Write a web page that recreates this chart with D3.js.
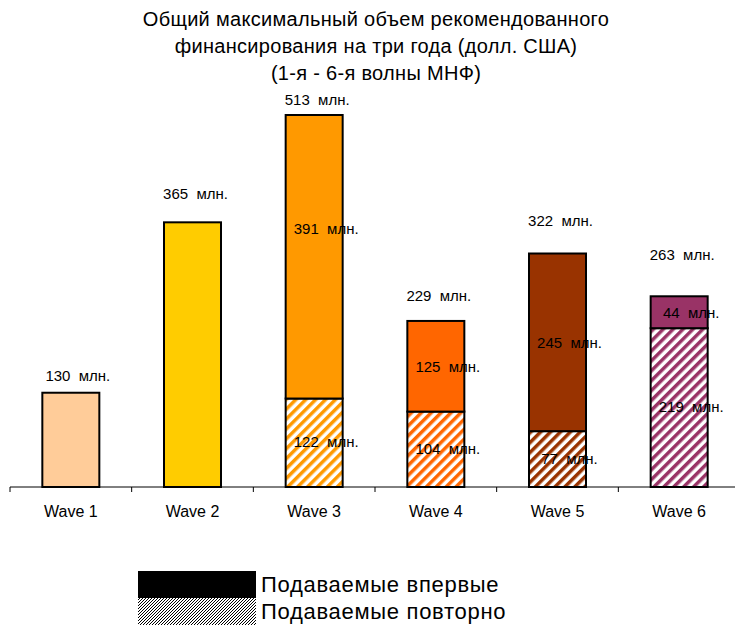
<!DOCTYPE html>
<html>
<head>
<meta charset="utf-8">
<script src="https://cdn.jsdelivr.net/npm/d3@7"></script>
<style>
  body { margin: 0; background: #fff; }
  svg { display: block; font-family: "Liberation Sans", Arial, sans-serif; }
  text { white-space: pre; }
</style>
</head>
<body>
<svg id="chart" width="735" height="626"></svg>
<script>
// values (млн. долл. США)
const waves = ["Wave 1", "Wave 2", "Wave 3", "Wave 4", "Wave 5", "Wave 6"];
const firstTime = [130, 365, 391, 125, 245, 44];   // solid top part
const repeated = [0, 0, 122, 104, 77, 219];        // hatched bottom part
const totals = [130, 365, 513, 229, 322, 263];
const waveColors = ["#FFCC99", "#FFCC00", "#FF9900", "#FF6600", "#993300", "#993366"];

const titleLines = [
  "Общий максимальный объем рекомендованного",
  "финансирования на три года (долл. США)",
  "(1-я - 6-я волны МНФ)"
];
const legendLabels = ["Подаваемые впервые", "Подаваемые повторно"];

// label gaps above each bar (the original places them by hand)
const totalLabelGap = [12, 23, 10, 20, 28, 36];

const svg = d3.select("#chart");
const baseY = 487;

const x = d3.scaleBand().domain(waves).range([10, 740]).padding(0);
const y = d3.scaleLinear().domain([0, 513]).range([baseY, 115]);
const barW = 57;
const barX = i => x(waves[i]) + (x.bandwidth() - barW) / 2;
const fmt = v => v + "\u00a0 млн.";

// hatch patterns, one per wave colour
const defs = svg.append("defs");
waveColors.forEach((c, i) => {
  const p = defs.append("pattern")
    .attr("id", "hatch" + i)
    .attr("patternUnits", "userSpaceOnUse")
    .attr("width", 7).attr("height", 7)
    .attr("patternTransform", "rotate(45)");
  p.append("rect").attr("width", 7).attr("height", 7).attr("fill", "#fff");
  p.append("rect").attr("width", 3.5).attr("height", 7).attr("fill", c);
});
const lp = defs.append("pattern")
  .attr("id", "legendHatch")
  .attr("patternUnits", "userSpaceOnUse")
  .attr("width", 3).attr("height", 3);
lp.append("rect").attr("width", 3).attr("height", 3).attr("fill", "#fff");
[[2, 0], [1, 1], [0, 2]].forEach(([px, py]) => {
  lp.append("rect").attr("x", px).attr("y", py).attr("width", 1).attr("height", 1).attr("fill", "#000");
});

// title
svg.append("g").selectAll("text")
  .data(titleLines)
  .join("text")
  .attr("x", 376)
  .attr("y", (d, i) => 26 + i * 27)
  .attr("text-anchor", "middle")
  .attr("font-size", 20)
  .attr("letter-spacing", 0.3)
  .text(d => d);

// bars
const bars = svg.append("g");
waves.forEach((w, i) => {
  if (repeated[i] > 0) {
    bars.append("rect")
      .attr("x", barX(i)).attr("width", barW)
      .attr("y", y(repeated[i])).attr("height", y(0) - y(repeated[i]))
      .attr("fill", `url(#hatch${i})`)
      .attr("stroke", "#000").attr("stroke-width", 2);
  }
  bars.append("rect")
    .attr("x", barX(i)).attr("width", barW)
    .attr("y", y(totals[i])).attr("height", y(repeated[i]) - y(totals[i]))
    .attr("fill", waveColors[i])
    .attr("stroke", "#000").attr("stroke-width", 2);
});

// axis
svg.append("line")
  .attr("x1", 10).attr("x2", 735)
  .attr("y1", baseY).attr("y2", baseY)
  .attr("stroke", "#000");
svg.append("g").selectAll("line")
  .data(waves.concat([null]))
  .join("line")
  .attr("x1", (d, i) => 10 + i * x.step()).attr("x2", (d, i) => 10 + i * x.step())
  .attr("y1", baseY).attr("y2", baseY + 5)
  .attr("stroke", "#000");
svg.append("g").selectAll("text")
  .data(waves)
  .join("text")
  .attr("x", d => x(d) + x.bandwidth() / 2)
  .attr("y", 517)
  .attr("text-anchor", "middle")
  .attr("font-size", 16)
  .text(d => d);

// total labels
svg.append("g").selectAll("text")
  .data(totals)
  .join("text")
  .attr("x", (d, i) => barX(i) + barW / 2 + (i === 0 ? 7 : 3))
  .attr("y", (d, i) => y(d) - totalLabelGap[i])
  .attr("text-anchor", "middle")
  .attr("font-size", 15)
  .text(d => fmt(d));

// segment labels (only stacked waves)
const segLabels = svg.append("g").attr("font-size", 15).attr("text-anchor", "middle");
waves.forEach((w, i) => {
  if (repeated[i] === 0) return;
  const cx = barX(i) + barW / 2 + 12;
  const topMid = (y(totals[i]) + y(repeated[i])) / 2 + (i === 2 ? -28 : 0);
  segLabels.append("text")
    .attr("x", cx).attr("y", topMid + 5.5)
    .text(fmt(firstTime[i]));
  segLabels.append("text")
    .attr("x", cx).attr("y", (y(repeated[i]) + y(0)) / 2 + 4.5)
    .text(fmt(repeated[i]));
});

// legend
const legend = svg.append("g");
legend.append("rect")
  .attr("x", 138).attr("y", 571).attr("width", 118).attr("height", 27)
  .attr("fill", "#000");
legend.append("rect")
  .attr("x", 138).attr("y", 598).attr("width", 118).attr("height", 27)
  .attr("fill", "url(#legendHatch)");
legend.selectAll("text")
  .data(legendLabels)
  .join("text")
  .attr("x", 261)
  .attr("y", (d, i) => 592 + i * 27)
  .attr("font-size", 22)
  .attr("letter-spacing", 0.7)
  .text(d => d);
</script>
</body>
</html>
